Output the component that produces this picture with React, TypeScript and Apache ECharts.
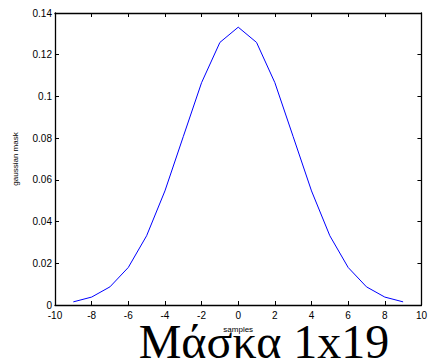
import React, { useEffect, useRef } from "react";
import * as echarts from "echarts";

const samples = [-9, -8, -7, -6, -5, -4, -3, -2, -1, 0, 1, 2, 3, 4, 5, 6, 7, 8, 9];
const maskValues = [
  0.0015, 0.0038, 0.0087, 0.018, 0.0332, 0.0547, 0.0807, 0.1066, 0.1259, 0.1332,
  0.1259, 0.1066, 0.0807, 0.0547, 0.0332, 0.018, 0.0087, 0.0038, 0.0015,
];
const xAxisName = "samples";
const yAxisName = "gaussian mask";
const titleText = "Μάσκα 1x19";

const FONT = "Arial, 'Liberation Sans', sans-serif";

export default function App() {
  const ref = useRef<HTMLDivElement>(null);
  useEffect(() => {
    const chart = echarts.init(ref.current!, null, { renderer: "svg" });
    const axisCommon = {
      axisLine: { show: true, onZero: false, lineStyle: { color: "#000", width: 1.3 } },
      axisTick: { show: true, inside: true, length: 4, lineStyle: { color: "#000" } },
      splitLine: { show: false },
    };
    chart.setOption({
      animation: false,
      backgroundColor: "#fff",
      grid: { left: 55, top: 13, right: 5, bottom: 59, containLabel: false },
      xAxis: [
        {
          type: "value",
          min: -10,
          max: 10,
          interval: 2,
          position: "bottom",
          ...axisCommon,
          axisLabel: { color: "#000", fontFamily: FONT, fontSize: 10, margin: 5 },
          name: xAxisName,
          nameLocation: "middle",
          nameGap: 20,
          nameTextStyle: { color: "#000", fontFamily: FONT, fontSize: 8 },
        },
        {
          type: "value",
          min: -10,
          max: 10,
          interval: 2,
          position: "top",
          ...axisCommon,
          axisLabel: { show: false },
        },
      ],
      yAxis: [
        {
          type: "value",
          min: 0,
          max: 0.14,
          interval: 0.02,
          position: "left",
          ...axisCommon,
          axisLabel: { color: "#000", fontFamily: FONT, fontSize: 10, margin: 3 },
          name: yAxisName,
          nameLocation: "middle",
          nameGap: 36,
          nameTextStyle: { color: "#000", fontFamily: FONT, fontSize: 8 },
        },
        {
          type: "value",
          min: 0,
          max: 0.14,
          interval: 0.02,
          position: "right",
          ...axisCommon,
          axisLabel: { show: false },
        },
      ],
      series: [
        {
          type: "line",
          data: samples.map((s, i) => [s, maskValues[i]]),
          showSymbol: false,
          lineStyle: { color: "#0000ff", width: 1 },
          itemStyle: { color: "#0000ff" },
        },
      ],
      graphic: [
        {
          type: "text",
          x: 264,
          y: 341,
          style: {
            text: titleText,
            fill: "#000",
            font: "48px 'Liberation Serif', 'Times New Roman', serif",
            lineHeight: 40,
            align: "center",
            verticalAlign: "middle",
          },
        },
      ],
    });
    return () => chart.dispose();
  }, []);
  return (
    <div
      ref={ref}
      style={{ position: "fixed", left: 0, top: 0, width: 430, height: 364 }}
    />
  );
}
